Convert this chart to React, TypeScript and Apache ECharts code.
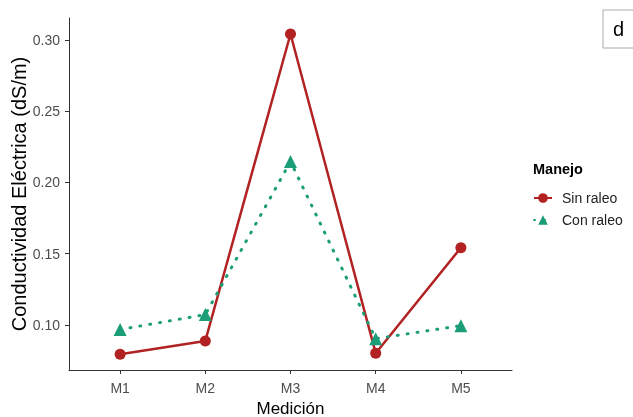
import React, { useEffect, useRef } from "react";
import * as echarts from "echarts";

const categories = ["M1", "M2", "M3", "M4", "M5"];
const sinRaleo = [0.0795, 0.0888, 0.3042, 0.0802, 0.1542];
const conRaleo = [0.0968, 0.1073, 0.2147, 0.0904, 0.0995];
const yTicks = [0.1, 0.15, 0.2, 0.25, 0.3];
const xTicks = [1, 2, 3, 4, 5];

const FONT = "Liberation Sans, Arial, sans-serif";

export default function App() {
  const ref = useRef<HTMLDivElement>(null);
  useEffect(() => {
    if (!ref.current) return;
    const chart = echarts.init(ref.current, null, { renderer: "svg" });
    const toPairs = (arr: number[]) => arr.map((v, i) => [i + 1, v]);
    chart.setOption({
      animation: false,
      textStyle: { fontFamily: FONT },
      grid: {
        left: 69,
        top: 18,
        right: 121,
        bottom: 47,
        containLabel: false,
        outerBoundsMode: "none",
      },
      xAxis: {
        type: "value",
        min: 0.4,
        max: 5.6,
        name: "Medición",
        nameLocation: "middle",
        nameGap: 30,
        nameTextStyle: { color: "#000", fontSize: 17, fontFamily: FONT },
        axisLine: { show: true, lineStyle: { color: "#333", width: 1 } },
        axisTick: { show: true, length: 4, lineStyle: { color: "#333" }, customValues: xTicks },
        axisLabel: {
          color: "#4d4d4d",
          fontSize: 14,
          margin: 11,
          customValues: xTicks,
          formatter: (v: number) => categories[Math.round(v) - 1] ?? "",
        },
        splitLine: { show: false },
      },
      yAxis: {
        type: "value",
        min: 0.0684,
        max: 0.3154,
        name: "Conductividad Eléctrica (dS/m)",
        nameLocation: "middle",
        nameGap: 40,
        nameMoveOverlap: false,
        nameTextStyle: { color: "#000", fontSize: 20, fontFamily: FONT },
        axisLine: { show: true, lineStyle: { color: "#333", width: 1 } },
        axisTick: { show: true, length: 4, lineStyle: { color: "#333" }, customValues: yTicks },
        axisLabel: {
          color: "#4d4d4d",
          fontSize: 14,
          margin: 9,
          customValues: yTicks,
          formatter: (v: number) => v.toFixed(2),
        },
        splitLine: { show: false },
      },
      legend: {
        left: 528,
        top: 186,
        orient: "vertical",
        itemWidth: 18,
        itemHeight: 12,
        itemGap: 8,
        textStyle: { color: "#222", fontSize: 14, fontFamily: FONT, padding: [0, 0, 0, 5] },
        data: ["Sin raleo", "Con raleo"],
      },
      graphic: [
        {
          type: "text",
          left: 533,
          top: 161,
          style: { text: "Manejo", fontSize: 14.5, fontWeight: "bold", fill: "#000", fontFamily: FONT },
        },
        {
          type: "rect",
          shape: { x: 603, y: 10, width: 40, height: 38 },
          style: { fill: "#fff", stroke: "#aaa", lineWidth: 1 },
        },
        {
          type: "text",
          x: 613,
          y: 19,
          style: { text: "d", fontSize: 20, fill: "#000", fontFamily: FONT },
        },
      ],
      series: [
        {
          name: "Sin raleo",
          type: "line",
          data: toPairs(sinRaleo),
          symbol: "circle",
          symbolSize: 11,
          itemStyle: { color: "#B22222" },
          lineStyle: { color: "#B22222", width: 2.5 },
        },
        {
          name: "Con raleo",
          type: "line",
          data: toPairs(conRaleo),
          symbol: "triangle",
          symbolSize: 13,
          itemStyle: { color: "#1B9E77" },
          lineStyle: { color: "#1B9E77", width: 3, type: [1, 9], cap: "round" },
        },
      ],
    });
    return () => chart.dispose();
  }, []);
  return (
    <div
      ref={ref}
      style={{ position: "fixed", left: 0, top: 0, width: 633, height: 417 }}
    />
  );
}
